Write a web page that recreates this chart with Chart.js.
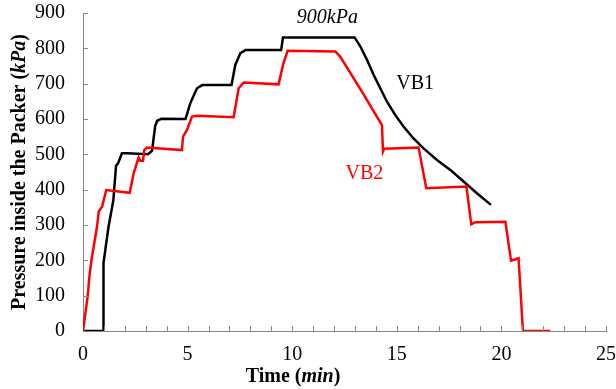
<!DOCTYPE html>
<html>
<head>
<meta charset="utf-8">
<script src="https://cdn.jsdelivr.net/npm/chart.js@4.4.1/dist/chart.umd.min.js"></script>
<style>
  body { margin: 0; background: #fff; }
  #wrap { width: 616px; height: 389px; position: relative; }
</style>
</head>
<body>
<div id="wrap"><canvas id="chart"></canvas></div>
<script>
// VB1 (black) - time in min, pressure in kPa
const vb1Time = [0, 0.96, 0.98, 1.22, 1.45, 1.58, 1.68, 1.86, 2.1, 3.1, 3.3, 3.45, 3.55, 3.75, 4.9, 5.13, 5.45, 5.7, 7.1, 7.28, 7.52, 7.76, 9.47, 9.56, 12.98, 13.26, 13.58, 13.89, 14.21, 14.53, 14.93, 15.33, 15.8, 16.28, 16.92, 17.56, 18.19, 18.83, 19.5];
const vb1Pressure = [0, 0, 192, 295, 370, 468, 475, 503, 503, 500, 510, 580, 595, 601, 600, 645, 687, 696, 696, 753, 786, 795, 795, 831, 831, 805, 767, 725, 687, 649, 611, 578, 545, 517, 484, 456, 423, 390, 357];

// VB2 (red)
const vb2Time = [0, 0.22, 0.32, 0.43, 0.67, 0.75, 0.91, 1.11, 2.23, 2.42, 2.66, 2.74, 2.87, 2.93, 3.06, 4.73, 4.78, 4.97, 5.21, 5.45, 7.2, 7.44, 7.68, 9.35, 9.56, 9.78, 12.06, 12.3, 13.34, 14.29, 14.34, 14.4, 16.04, 16.41, 18.33, 18.56, 18.75, 20.19, 20.46, 20.82, 21.03, 22.34];
const vb2Pressure = [0, 97, 163, 210, 295, 338, 352, 399, 391, 446, 491, 482, 482, 512, 519, 512, 550, 569, 607, 609, 605, 687, 703, 698, 753, 793, 791, 776, 677, 583, 508, 516, 519, 404, 409, 302, 308, 309, 199, 206, 0, 0];

const xTickLabels = [0, 5, 10, 15, 20, 25];
const yTicks = [0, 100, 200, 300, 400, 500, 600, 700, 800, 900];

const serif = "'Liberation Serif', 'Times New Roman', serif";
const axisGray = '#878787';

const toPoints = (xs, ys) => xs.map((x, i) => ({ x: x, y: ys[i] }));

// draw text made of pieces with different styles, centred on (cx, cy)
function drawPieces(ctx, pieces, cx, cy, color) {
    let total = 0;
    pieces.forEach(p => { ctx.font = p.font; p.w = ctx.measureText(p.t).width; total += p.w; });
    let x = cx - total / 2;
    ctx.fillStyle = color;
    ctx.textBaseline = 'middle';
    ctx.textAlign = 'left';
    pieces.forEach(p => { ctx.font = p.font; ctx.fillText(p.t, x, cy); x += p.w; });
}

const decor = {
    id: 'decor',
    afterDraw(chart) {
        const ctx = chart.ctx;
        const xs = chart.scales.x, ys = chart.scales.y;
        ctx.save();
        // inward tick marks
        ctx.strokeStyle = axisGray;
        ctx.lineWidth = 1;
        ctx.beginPath();
        for (let t = 1; t <= 25; t++) {
            const px = Math.round(xs.getPixelForValue(t)) + 0.5;
            ctx.moveTo(px, ys.bottom);
            ctx.lineTo(px, ys.bottom - 5);
        }
        yTicks.forEach(v => {
            if (v === 0) return;
            const py = Math.round(ys.getPixelForValue(v)) + 0.5;
            ctx.moveTo(xs.left, py);
            ctx.lineTo(xs.left + 5, py);
        });
        ctx.stroke();

        // axis titles
        const b = 'bold 20px ' + serif, bi = 'bold italic 20px ' + serif;
        drawPieces(ctx, [{ t: 'Time (', font: b }, { t: 'min', font: bi }, { t: ')', font: b }], 293, 377, '#000');
        ctx.save();
        ctx.translate(20, 172);
        ctx.rotate(-Math.PI / 2);
        drawPieces(ctx, [{ t: 'Pressure inside the Packer (', font: b }, { t: 'kPa', font: bi }, { t: ')', font: b }], 0, 0, '#000');
        ctx.restore();

        // labels on the plot
        const it = 'italic 20px ' + serif, rg = '20px ' + serif;
        drawPieces(ctx, [{ t: '900', font: it }, { t: 'kPa', font: it }], xs.getPixelForValue(11.68), ys.getPixelForValue(886), '#000');
        drawPieces(ctx, [{ t: 'VB1', font: rg }], xs.getPixelForValue(15.88), ys.getPixelForValue(699), '#000');
        drawPieces(ctx, [{ t: 'VB2', font: rg }], xs.getPixelForValue(13.45), ys.getPixelForValue(444), '#ff0000');
        ctx.restore();
    }
};

new Chart(document.getElementById('chart'), {
    type: 'scatter',
    data: {
        datasets: [
            {
                label: 'VB2',
                data: toPoints(vb2Time, vb2Pressure),
                showLine: true,
                borderColor: '#ff0000',
                borderWidth: 2.5,
                pointRadius: 0,
                tension: 0
            },
            {
                label: 'VB1',
                data: toPoints(vb1Time, vb1Pressure),
                showLine: true,
                borderColor: '#000000',
                borderWidth: 2.5,
                pointRadius: 0,
                tension: 0
            }
        ]
    },
    options: {
        responsive: true,
        maintainAspectRatio: false,
        animation: false,
        layout: { padding: { left: 0, right: 10, top: 13, bottom: 0 } },
        plugins: { legend: { display: false }, tooltip: { enabled: false } },
        scales: {
            x: {
                type: 'linear',
                min: 0, max: 25,
                grid: { display: false, drawTicks: false },
                border: { display: true, color: axisGray, width: 1 },
                ticks: {
                    stepSize: 1,
                    autoSkip: false,
                    maxRotation: 0,
                    padding: 12,
                    color: '#000',
                    font: { family: serif, size: 20 },
                    callback: v => xTickLabels.includes(v) ? String(v) : ''
                },
                afterFit: s => { s.height = 58; s.paddingLeft = 0; s.paddingRight = 0; }
            },
            y: {
                min: 0, max: 900,
                grid: { display: false, drawTicks: false },
                border: { display: true, color: axisGray, width: 1 },
                ticks: {
                    stepSize: 100,
                    padding: 18,
                    color: '#000',
                    font: { family: serif, size: 20 }
                },
                afterFit: s => { s.width = 83; s.paddingTop = 0; s.paddingBottom = 0; }
            }
        }
    },
    plugins: [decor]
});
</script>
</body>
</html>
